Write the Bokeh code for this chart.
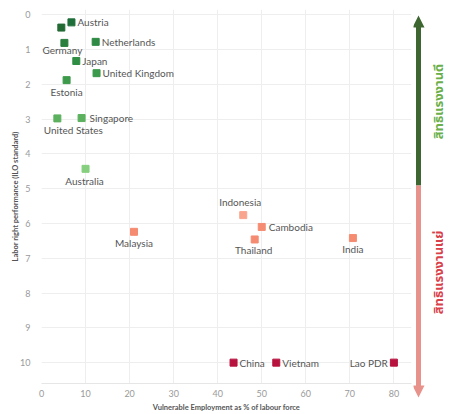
import math
from bokeh.plotting import figure
from bokeh.models import Range1d, ColumnDataSource, FixedTicker
from bokeh.layouts import row
from bokeh.core.properties import value
from bokeh.embed import file_html
from bokeh.resources import INLINE

# ---- data ----
countries = ["Austria", "", "Germany", "Netherlands", "Japan", "United Kingdom",
             "Estonia", "Singapore", "United States", "Australia",
             "Indonesia", "Cambodia", "Thailand", "India", "Malaysia",
             "China", "Vietnam", "Lao PDR"]
vulnerable_employment = [6.8, 4.5, 5.2, 12.3, 7.9, 12.5,
                         5.7, 9.1, 3.6, 10.0,
                         45.8, 50.0, 48.4, 70.7, 21.0,
                         43.6, 53.3, 80.0]
labor_right = [0.22, 0.37, 0.81, 0.78, 1.33, 1.68,
               1.88, 2.97, 2.98, 4.43,
               5.76, 6.10, 6.46, 6.42, 6.24,
               10.0, 10.0, 10.0]
x_ticks = [0, 10, 20, 30, 40, 50, 60, 70, 80]
y_ticks = [0, 1, 2, 3, 4, 5, 6, 7, 8, 9, 10]
good_text = "สิทธิแรงงานดี"
bad_text = "สิทธิแรงงานแย่"

# ---- styles (kept apart from data) ----
colors = ["#1e6e3a", "#236b35", "#2a7e3e", "#2e8a44", "#2f8d44", "#3b9a4c",
          "#3e9a4b", "#5cb15e", "#5cb15e", "#86cf7f",
          "#f9a58e", "#f58c72", "#f58c72", "#f58c72", "#f58c72",
          "#b8123e", "#b8123e", "#b8123e"]
# label placement: (dx px, dy px, align)
placement = {
    "Austria": (6, 0, "left"), "": (0, 0, "left"), "Germany": (-2, 7, "center"),
    "Netherlands": (6, 0, "left"), "Japan": (6, 0, "left"),
    "United Kingdom": (6, 0, "left"), "Estonia": (0, 12, "center"),
    "Singapore": (8, 0, "left"), "United States": (16, 12, "center"),
    "Australia": (-1, 12, "center"), "Indonesia": (-3, -13, "center"),
    "Cambodia": (7, 0, "left"), "Thailand": (-1, 11, "center"),
    "India": (0, 11, "center"), "Malaysia": (0, 11, "center"),
    "China": (6, 0, "left"), "Vietnam": (6, 0, "left"), "Lao PDR": (-6, 0, "right"),
}

src = ColumnDataSource(dict(
    x=vulnerable_employment, y=labor_right, label=countries, color=colors,
    dx=[placement[c][0] for c in countries],
    dy=[placement[c][1] for c in countries],
    align=[placement[c][2] for c in countries],
))

FONT = "Lato"

p = figure(width=413, height=414, x_range=Range1d(0, 84), y_range=Range1d(10.6, -0.15),
           output_backend="svg", toolbar_location=None,
           min_border_left=41, min_border_right=2, min_border_top=9, min_border_bottom=0)
p.frame_align = False
p.outline_line_color = None
p.background_fill_color = "white"
p.xgrid.grid_line_color = "#eeeeee"
p.ygrid.grid_line_color = "#eeeeee"
p.xaxis.ticker = FixedTicker(ticks=x_ticks)
p.yaxis.ticker = FixedTicker(ticks=y_ticks)
for ax in (p.xaxis[0], p.yaxis[0]):
    ax.major_tick_line_color = None
    ax.minor_tick_line_color = None
    ax.major_label_text_font = FONT
    ax.major_label_text_font_size = "9px"
    ax.major_label_text_color = "#9a9a9a"
    ax.axis_label_text_font = FONT
    ax.axis_label_text_font_size = "7.5px"
    ax.axis_label_text_font_style = "bold"
    ax.axis_label_text_color = "#555555"
p.xaxis.axis_line_color = "#e6e6e6"
p.yaxis.axis_line_color = None
p.xaxis.major_label_standoff = 0
p.xaxis.axis_label_standoff = 3
p.yaxis.major_label_standoff = 5
p.yaxis.axis_label_standoff = -3
p.xaxis.axis_label = "Vulnerable Employment as % of labour force"
p.yaxis.axis_label = "Labor right performance (ILO standard)"

p.scatter(x="x", y="y", source=src, marker="square", size=7,
          fill_color="color", line_color="color")
p.text(x="x", y="y", text="label", x_offset="dx", y_offset="dy",
       text_align="align", text_baseline="middle", source=src,
       text_font=value(FONT), text_font_size="10px", text_color="#555555")

# ---- side panel: double arrow and Thai captions (pixel coordinates) ----
s = figure(width=41, height=414, x_range=Range1d(0, 41), y_range=Range1d(0, 414),
           output_backend="svg", toolbar_location=None, min_border=0,
           x_axis_location=None, y_axis_location=None)
s.frame_align = False
s.grid.visible = False
s.outline_line_color = None

green = "#3d6630"
pink = "#e8928c"
ax_x = 5
y_top, y_mid, y_bot = 399, 229, 17
shaft_w, head_w, head_l = 2.5, 6, 12

def arrow_poly(tip, start):
    d = 1 if tip > start else -1
    hb = tip - d * head_l
    xs = [ax_x - shaft_w, ax_x - shaft_w, ax_x - head_w, ax_x, ax_x + head_w,
          ax_x + shaft_w, ax_x + shaft_w]
    ys = [start, hb, hb, tip, hb, hb, start]
    return xs, ys

gx, gy = arrow_poly(y_top, y_mid)
rx, ry = arrow_poly(y_bot, y_mid)
s.patch(gx, gy, fill_color=green, line_color=None)
s.patch(rx, ry, fill_color=pink, line_color=None)

thai_font = value("Noto Sans Thai, Noto Sans, sans-serif")
s.text(x=[25.5], y=[313], text=[good_text], angle=math.pi / 2,
       text_align="center", text_baseline="middle", text_font=thai_font,
       text_font_size="13px", text_color="#6aaf4a", text_font_style="bold")
s.text(x=[25.5], y=[142], text=[bad_text], angle=math.pi / 2,
       text_align="center", text_baseline="middle", text_font=thai_font,
       text_font_size="13px", text_color="#d9414a", text_font_style="bold")

layout = row(p, s)
open("out.html", "w").write(file_html(layout, INLINE))
